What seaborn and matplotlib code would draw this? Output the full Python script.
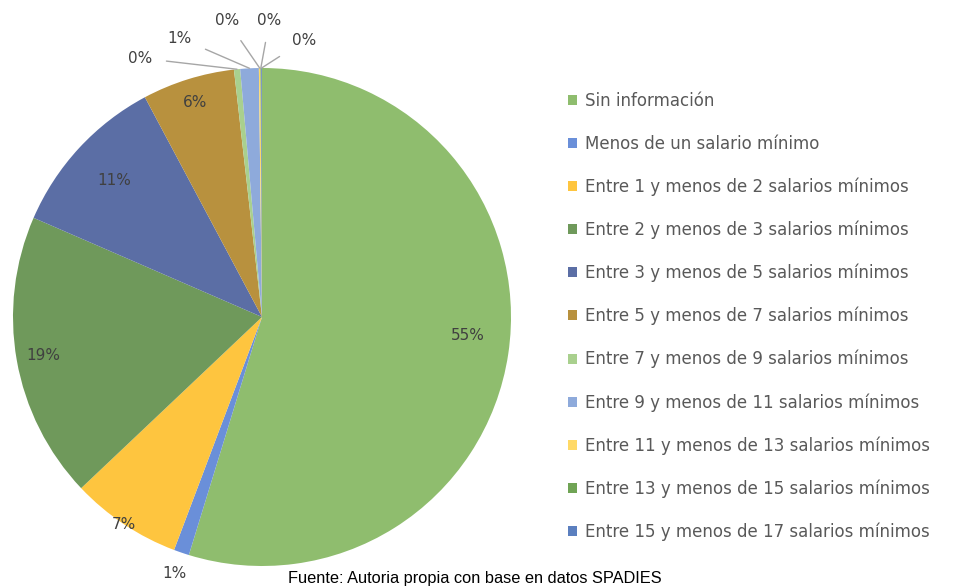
import matplotlib
matplotlib.use("Agg")
import numpy as np
import seaborn as sns
import matplotlib.pyplot as plt

# Distribucion por ingresos
categorias = [
    "Sin información",
    "Menos de un salario mínimo",
    "Entre 1 y menos de 2 salarios mínimos",
    "Entre 2 y menos de 3 salarios mínimos",
    "Entre 3 y menos de 5 salarios mínimos",
    "Entre 5 y menos de 7 salarios mínimos",
    "Entre 7 y menos de 9 salarios mínimos",
    "Entre 9 y menos de 11 salarios mínimos",
    "Entre 11 y menos de 13 salarios mínimos",
    "Entre 13 y menos de 15 salarios mínimos",
    "Entre 15 y menos de 17 salarios mínimos",
]
porcentajes = [54.8, 1.0, 7.2, 18.6, 10.7, 6.0, 0.4, 1.2, 0.1, 0.05, 0.05]

colores = ["#8fbd6e", "#6a8fd9", "#fec53f", "#6f995b", "#5b6ea5", "#b8913e",
           "#a9d08e", "#8eaadb", "#ffd966", "#70a455", "#5b7fbf"]

sns.set_theme(style="white")
plt.rcParams["font.family"] = ["DejaVu Sans"]

fig = plt.figure(figsize=(9.69, 5.88), dpi=100)
cx, cy, r = 262, 317, 249
ax = fig.add_axes([(cx - r) / 969, (588 - cy - r) / 588, 2 * r / 969, 2 * r / 588])

wedges, _ = ax.pie(porcentajes, colors=colores, startangle=90, counterclock=False,
                   wedgeprops=dict(linewidth=0))
ax.set_xlim(-1, 1)
ax.set_ylim(-1, 1)
ax.set_aspect("equal")
ax.axis("off")

total = sum(porcentajes)
txt = "#404040"
# distancia radial y giro extra (grados) de las etiquetas interiores
dist = [0.83, 1.09, 1.0, 0.89, 0.81, 0.9]
giro = [-3.5, 0, 0, 0, 0, 0]
for w, v, d, g in zip(wedges[:6], porcentajes[:6], dist, giro):
    ang = np.deg2rad((w.theta1 + w.theta2) / 2 - g)
    ax.text(d * np.cos(ang), d * np.sin(ang), f"{v / total * 100:.0f}%",
            ha="center", va="center", fontsize=11, color=txt, clip_on=False)

# etiquetas con lineas guia para los sectores pequenos
pos_txt = [(-0.49, 1.04), (-0.33, 1.12), (-0.14, 1.19), (0.03, 1.19), (0.17, 1.11)]
for w, v, (tx, ty) in zip(wedges[6:], porcentajes[6:], pos_txt):
    ang = np.deg2rad((w.theta1 + w.theta2) / 2)
    ax.annotate(f"{v / total * 100:.0f}%", xy=(np.cos(ang), np.sin(ang)),
                xytext=(tx, ty), ha="center", va="center", fontsize=11, color=txt,
                annotation_clip=False,
                arrowprops=dict(arrowstyle="-", color="#a6a6a6", lw=1,
                                shrinkA=8, shrinkB=0))

fig.legend(wedges, categorias, loc="upper left", bbox_to_anchor=(553 / 969, 1 - 77 / 588),
           frameon=False, fontsize=12, labelcolor="#595959", handlelength=0.55,
           handleheight=0.55, handletextpad=0.45, labelspacing=1.48)

fig.text(475 / 969, 1 - 578 / 588, "Fuente: Autoria propia con base en datos SPADIES",
         ha="center", va="center", fontsize=11.8, color="black",
         family="Liberation Sans")

fig.savefig("out.png", dpi=100)
